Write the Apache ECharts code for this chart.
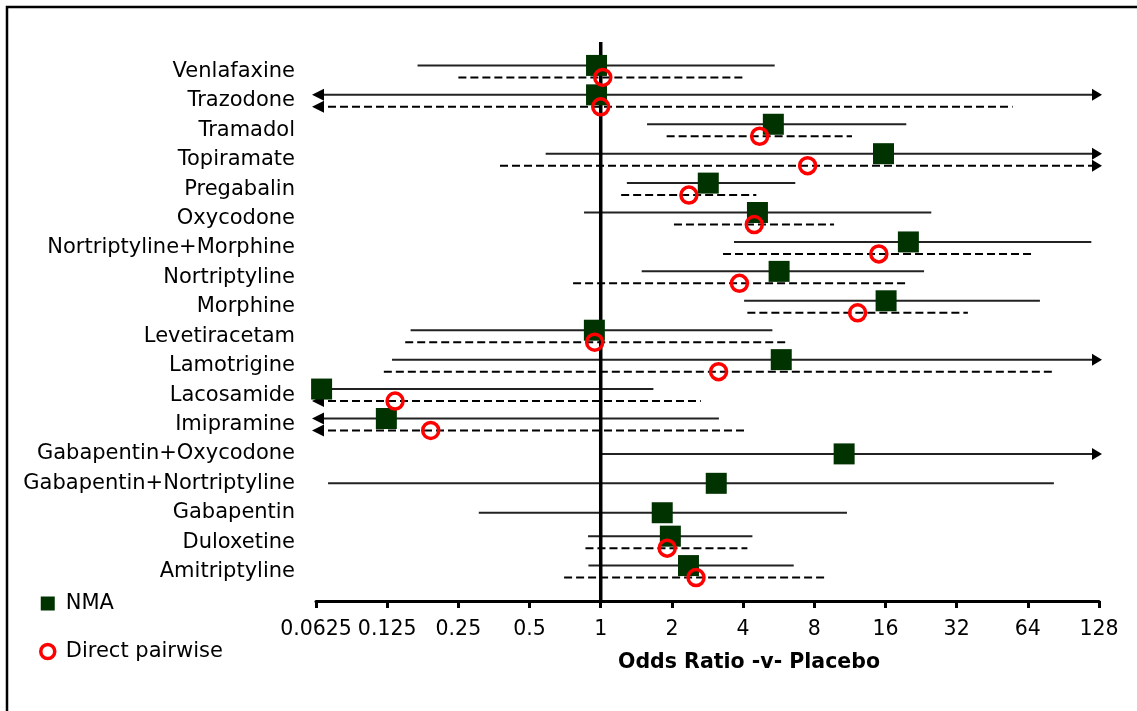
<!DOCTYPE html>
<html>
<head>
<meta charset="utf-8">
<title>Odds Ratio -v- Placebo</title>
<script src="https://cdn.jsdelivr.net/npm/echarts@6/dist/echarts.min.js"></script>
<style>
  html, body { margin: 0; padding: 0; background: #fff; }
  #chart { width: 1137px; height: 711px; }
</style>
</head>
<body>
<div id="chart"></div>
<script>
// Treatments, listed top to bottom
const drugs = [
  'Venlafaxine', 'Trazodone', 'Tramadol', 'Topiramate', 'Pregabalin', 'Oxycodone',
  'Nortriptyline+Morphine', 'Nortriptyline', 'Morphine', 'Levetiracetam', 'Lamotrigine',
  'Lacosamide', 'Imipramine', 'Gabapentin+Oxycodone', 'Gabapentin+Nortriptyline',
  'Gabapentin', 'Duloxetine', 'Amitriptyline'
];

// Network meta-analysis: odds ratio and 95% interval (null bound = beyond the axis, drawn as an arrow)
const nmaOR   = [0.96, 0.96, 5.37, 15.7, 2.85, 4.6, 20.0, 5.68, 16.1, 0.94, 5.8, 0.066, 0.124, 10.7, 3.08, 1.82, 1.97, 2.35];
const nmaLow  = [0.168, null, 1.57, 0.585, 1.29, 0.85, 3.66, 1.49, 4.04, 0.157, 0.131, null, null, 0.99, 0.0703, 0.305, 0.884, 0.887];
const nmaHigh = [5.44, null, 19.6, null, 6.65, 25.0, 118.8, 23.3, 72, 5.32, null, 1.67, 3.16, null, 82.5, 11.0, 4.38, 6.55];

// Direct pairwise meta-analysis (null estimate = no direct evidence)
const directOR   = [1.02, 1.0, 4.70, 7.5, 2.36, 4.46, 15.0, 3.86, 12.2, 0.943, 3.15, 0.135, 0.191, null, null, null, 1.91, 2.53];
const directLow  = [0.25, null, 1.90, 0.375, 1.22, 2.04, 3.29, 0.764, 4.17, 0.149, 0.121, null, null, null, null, null, 0.862, 0.70];
const directHigh = [4.09, 55.2, 11.55, null, 4.55, 9.7, 67.9, 19.5, 35.7, 6.1, 82.5, 2.65, 4.09, null, null, null, 4.17, 9.09];

// Log2 odds-ratio axis
const xMin = 0.0625, xMax = 128;
const tickLabels = ['0.0625', '0.125', '0.25', '0.5', '1', '2', '4', '8', '16', '32', '64', '128'];

const FONT = 'DejaVu Sans';
const ROW_SHIFT = 6; // px between the NMA and the direct estimate on one row

function hasDirect(i) { return directOR[i] != null; }

// Interval rows: [row, low, high, pixel shift, dashed, arrowLeft, arrowRight]
const ciData = [];
drugs.forEach((d, i) => {
  const shift = hasDirect(i) ? -ROW_SHIFT : 0;
  ciData.push([i, nmaLow[i] ?? xMin, nmaHigh[i] ?? xMax, shift, 0,
               nmaLow[i] == null ? 1 : 0, nmaHigh[i] == null ? 1 : 0]);
  if (hasDirect(i)) {
    ciData.push([i, directLow[i] ?? xMin, directHigh[i] ?? xMax, ROW_SHIFT, 1,
                 directLow[i] == null ? 1 : 0, directHigh[i] == null ? 1 : 0]);
  }
});

const nmaPoints = drugs.map((d, i) => ({
  value: [nmaOR[i], i],
  symbolOffset: [0, hasDirect(i) ? -ROW_SHIFT : 0]
}));
const directPoints = [];
drugs.forEach((d, i) => {
  if (hasDirect(i)) directPoints.push({ value: [directOR[i], i], symbolOffset: [0, ROW_SHIFT] });
});

function renderCI(params, api) {
  const row = api.value(0);
  const p1 = api.coord([api.value(1), row]);
  const p2 = api.coord([api.value(2), row]);
  const y = p1[1] + api.value(3);
  const dashed = api.value(4) === 1;
  let x1 = p1[0], x2 = p2[0];
  const children = [];
  if (api.value(5) === 1) {
    children.push({ type: 'polygon', shape: { points: [[x1 - 4, y], [x1 + 8, y - 6], [x1 + 8, y + 6]] },
                    style: { fill: '#000' } });
  }
  if (api.value(6) === 1) {
    children.push({ type: 'polygon', shape: { points: [[x2 + 3, y], [x2 - 7, y - 6], [x2 - 7, y + 6]] },
                    style: { fill: '#000' } });
    x2 -= 5;
  }
  children.unshift({
    type: 'line',
    shape: { x1: x1, y1: y, x2: x2, y2: y },
    style: dashed
      ? { stroke: '#000', lineWidth: 2, lineDash: [8, 4] }
      : { stroke: '#222', lineWidth: 2 }
  });
  return { type: 'group', children: children };
}

const chart = echarts.init(document.getElementById('chart'), null, { renderer: 'canvas' });

chart.setOption({
  backgroundColor: '#fff',
  animation: false,
  textStyle: { fontFamily: FONT },
  graphic: [{
    type: 'rect',
    shape: { x: 7, y: 7, width: 1150, height: 730 },
    style: { fill: 'none', stroke: '#000', lineWidth: 2.5 },
    z: 0
  }],
  grid: { left: 316, right: 38, top: 42, bottom: 110, containLabel: false, outerBoundsMode: 'none' },
  legend: {
    orient: 'vertical',
    left: 39,
    top: 593,
    padding: 0,
    itemWidth: 14,
    itemHeight: 14,
    itemGap: 27,
    selectedMode: false,
    textStyle: { fontFamily: FONT, fontSize: 21, color: '#000', lineHeight: 21, padding: [0, 0, 0, 6] },
    data: [
      { name: 'NMA', icon: 'rect', itemStyle: { color: '#003300', borderWidth: 0 } },
      { name: 'Direct pairwise', icon: 'circle',
        itemStyle: { color: '#fff', borderColor: '#ff0000', borderWidth: 3.5 } }
    ]
  },
  xAxis: {
    type: 'log',
    logBase: 2,
    min: xMin,
    max: xMax,
    interval: 1,
    splitNumber: 11,
    position: 'bottom',
    name: 'Odds Ratio -v- Placebo',
    nameLocation: 'middle',
    nameGap: 51,
    nameTextStyle: { fontFamily: FONT, fontSize: 20.5, fontWeight: 'bold', color: '#000', padding: [0, 0, 0, 83] },
    axisLine: { show: true, onZero: false, lineStyle: { color: '#000', width: 3 } },
    axisTick: { show: true, length: 7, lineStyle: { color: '#000', width: 3 } },
    axisLabel: {
      show: true, margin: 18, color: '#000', fontFamily: FONT, fontSize: 20.5,
      showMinLabel: true, showMaxLabel: true,
      formatter: v => tickLabels[Math.round(Math.log2(v) - Math.log2(xMin))] ?? ''
    },
    splitLine: { show: false }
  },
  yAxis: {
    type: 'value',
    min: -1,
    max: 18,
    interval: 1,
    inverse: true,
    axisLine: { show: false, onZero: false },
    axisTick: { show: false },
    splitLine: { show: false },
    axisLabel: {
      show: true, margin: 21, color: '#000', fontFamily: FONT, fontSize: 21,
      formatter: v => drugs[v] ?? ''
    }
  },
  series: [
    {
      name: 'interval',
      type: 'custom',
      renderItem: renderCI,
      encode: { x: [1, 2], y: 0 },
      data: ciData,
      clip: false,
      silent: true,
      z: 1
    },
    {
      name: 'reference',
      type: 'line',
      data: [[1, -1], [1, 18]],
      symbol: 'none',
      lineStyle: { color: '#000', width: 3.5 },
      silent: true,
      z: 2
    },
    {
      name: 'NMA',
      type: 'scatter',
      symbol: 'rect',
      symbolSize: 21,
      itemStyle: { color: '#003300', opacity: 1 },
      data: nmaPoints,
      clip: false,
      z: 3
    },
    {
      name: 'Direct pairwise',
      type: 'scatter',
      symbol: 'circle',
      symbolSize: 16,
      itemStyle: { color: 'rgba(255,255,255,0)', borderColor: '#ff0000', borderWidth: 3.5, opacity: 1 },
      data: directPoints,
      clip: false,
      z: 4
    }
  ]
});
</script>
</body>
</html>
